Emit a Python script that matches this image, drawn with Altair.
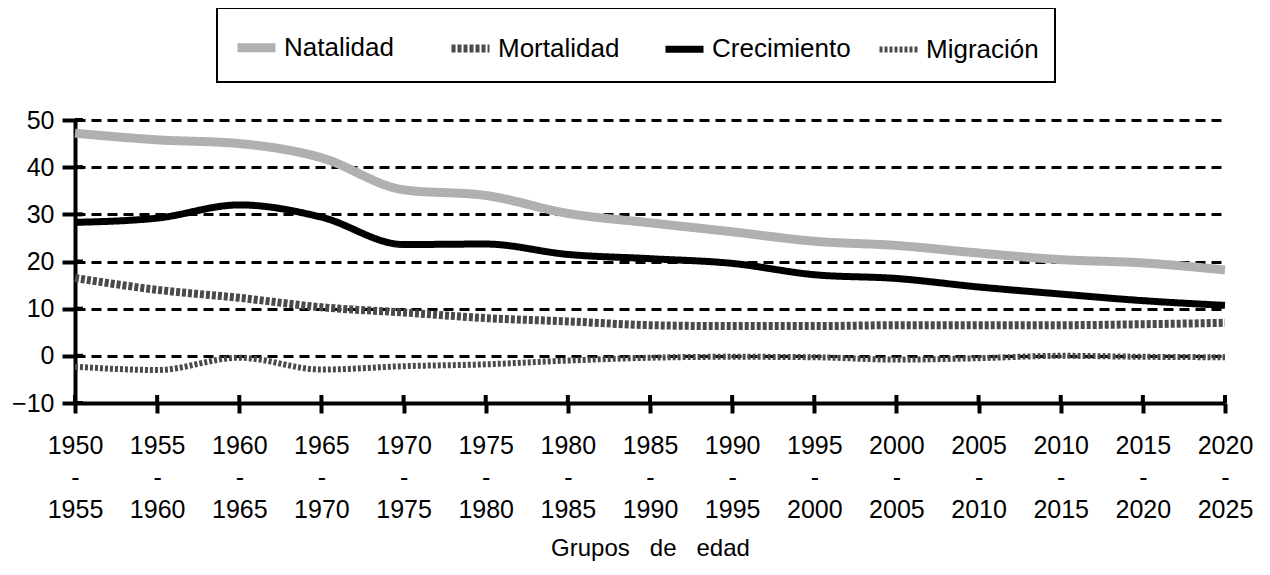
import altair as alt
import pandas as pd

periodos = ["1950 - 1955", "1955 - 1960", "1960 - 1965", "1965 - 1970", "1970 - 1975",
            "1975 - 1980", "1980 - 1985", "1985 - 1990", "1990 - 1995", "1995 - 2000",
            "2000 - 2005", "2005 - 2010", "2010 - 2015", "2015 - 2020", "2020 - 2025"]
natalidad = [47.2, 45.8, 45.0, 42.0, 35.2, 34.0, 30.2, 28.2, 26.3, 24.3, 23.4, 21.8, 20.4, 19.7, 18.2]
mortalidad = [16.5, 14.0, 12.3, 10.3, 9.2, 8.0, 7.3, 6.5, 6.3, 6.3, 6.5, 6.5, 6.5, 6.7, 7.0]
crecimiento = [28.3, 29.2, 32.0, 29.4, 23.6, 23.7, 21.5, 20.6, 19.6, 17.2, 16.4, 14.6, 13.1, 11.7, 10.7]
migracion = [-2.3, -3.0, -0.4, -2.9, -2.2, -1.8, -1.0, -0.4, -0.2, -0.3, -0.8, -0.5, 0.0, -0.2, -0.3]
series = ["Natalidad", "Mortalidad", "Crecimiento", "Migración"]
y_ticks = [-10, 0, 10, 20, 30, 40, 50]

rows = []
for name, vals in zip(series, [natalidad, mortalidad, crecimiento, migracion]):
    for p, v in zip(periodos, vals):
        rows.append({"Periodo": p, "Serie": name, "Valor": v})
df = pd.DataFrame(rows)

W, H = 1150, 283
FONT = "Liberation Sans"

x_scale = alt.Scale(type="point", domain=periodos, padding=0)
y_scale = alt.Scale(domain=[-10, 50], nice=False, zero=False)

x_axis = alt.Axis(title="Grupos \u00a0\u00a0de \u00a0\u00a0edad",
                  labelExpr="split(datum.label, ' ')",
                  labelAngle=0, labelBaseline="top",
                  labelLineHeight=32, labelPadding=20,
                  tickSize=10, grid=False)
y_axis = alt.Axis(title=None, values=y_ticks, grid=True,
                  labelPadding=8, tickSize=13)

lines = alt.Chart(df).mark_line(interpolate="monotone").encode(
    x=alt.X("Periodo:O", scale=x_scale, sort=periodos, axis=x_axis),
    y=alt.Y("Valor:Q", scale=y_scale, axis=y_axis),
    color=alt.Color("Serie:N", title=None,
                    scale=alt.Scale(domain=series,
                                    range=["#b0b0b0", "#4a4a4a", "#000000", "#4a4a4a"])),
    strokeWidth=alt.StrokeWidth("Serie:N", title=None,
                                scale=alt.Scale(domain=series, range=[9, 6, 10, 5])),
    strokeDash=alt.StrokeDash("Serie:N", title=None,
                              scale=alt.Scale(domain=series,
                                              range=[[1, 0], [4, 2], [1, 0], [3, 2]])),
)

tick_x = alt.Chart(pd.DataFrame({"Periodo": periodos})).mark_rule(
    color="black", strokeWidth=4).encode(
    x=alt.X("Periodo:O", scale=x_scale, sort=periodos, axis=x_axis),
    y=alt.value(H - 8), y2=alt.value(H))

tick_y = alt.Chart(pd.DataFrame({"Valor": y_ticks})).mark_rule(
    color="black", strokeWidth=4).encode(
    y=alt.Y("Valor:Q", scale=y_scale, axis=y_axis),
    x=alt.value(0), x2=alt.value(8))

chart = alt.layer(lines, tick_x, tick_y).properties(
    width=W, height=H,
    autosize=alt.AutoSizeParams(type="none"),
    padding={"left": 67, "top": 112, "right": 35, "bottom": 163},
).configure_view(stroke=None).configure_axis(
    labelFont=FONT, labelFontSize=25, labelColor="black",
    titleFont=FONT, titleFontSize=24, titleFontWeight="normal", titleColor="black",
    titlePadding=14,
    domainColor="black", domainWidth=4,
    tickColor="black", tickWidth=4,
    gridColor="black", gridWidth=3, gridDash=[10, 6], gridOpacity=1,
).configure_legend(
    orient="none", legendX=142, legendY=-112,
    direction="horizontal", columns=4, gridAlign="all",
    columnPadding=12, padding=16,
    strokeColor="black", strokeWidth=2,
    symbolType="stroke", symbolSize=1444,
    labelFont=FONT, labelFontSize=26, labelColor="black", labelOffset=4,
    labelLimit=400,
)

chart.save("out.html", embed_options={"renderer": "svg", "actions": False})
